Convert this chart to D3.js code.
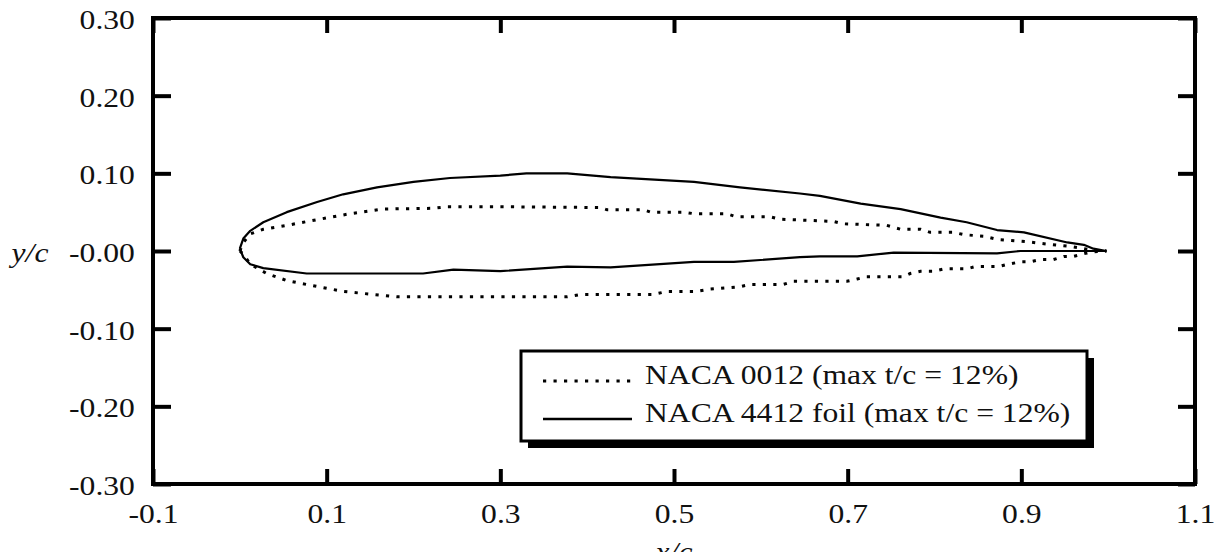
<!DOCTYPE html>
<html>
<head>
<meta charset="utf-8">
<script src="https://cdn.jsdelivr.net/npm/d3@7"></script>
<style>
  body { margin: 0; background: #fff; }
  svg { display: block; }
  text { font-family: "Liberation Serif", "Times New Roman", serif; fill: #111; }
</style>
</head>
<body>
<script>
// airfoil outlines, [x/c, y/c]
var naca0012Upper = [[0.000,0.000],[0.004,0.011],[0.012,0.022],[0.027,0.028],[0.054,0.033],[0.092,0.041],[0.127,0.048],[0.165,0.054],[0.223,0.055],[0.238,0.057],[0.300,0.057],[0.415,0.056],[0.423,0.053],[0.465,0.053],[0.473,0.050],[0.511,0.050],[0.523,0.048],[0.561,0.048],[0.572,0.044],[0.611,0.044],[0.622,0.041],[0.684,0.038],[0.695,0.035],[0.745,0.033],[0.761,0.028],[0.784,0.028],[0.795,0.024],[0.822,0.024],[0.834,0.021],[0.857,0.019],[0.872,0.015],[0.906,0.012],[0.929,0.009],[0.956,0.006],[0.972,0.003],[0.983,0.001],[0.998,0.000]];
var naca0012Lower = [[0.000,0.000],[0.004,-0.004],[0.012,-0.017],[0.031,-0.029],[0.054,-0.038],[0.081,-0.044],[0.119,-0.052],[0.154,-0.056],[0.181,-0.059],[0.377,-0.059],[0.392,-0.056],[0.476,-0.056],[0.492,-0.052],[0.526,-0.052],[0.542,-0.049],[0.576,-0.046],[0.588,-0.043],[0.626,-0.043],[0.638,-0.039],[0.699,-0.039],[0.711,-0.036],[0.722,-0.033],[0.764,-0.033],[0.772,-0.029],[0.784,-0.026],[0.799,-0.026],[0.811,-0.023],[0.837,-0.023],[0.847,-0.020],[0.874,-0.020],[0.885,-0.017],[0.899,-0.014],[0.910,-0.014],[0.922,-0.011],[0.937,-0.011],[0.949,-0.007],[0.960,-0.007],[0.974,-0.003],[0.983,-0.001],[0.998,0.000]];
var naca4412Upper = [[0.000,0.003],[0.004,0.016],[0.012,0.026],[0.027,0.037],[0.054,0.050],[0.089,0.063],[0.119,0.073],[0.158,0.082],[0.200,0.089],[0.242,0.094],[0.300,0.097],[0.330,0.100],[0.377,0.100],[0.427,0.095],[0.523,0.089],[0.576,0.082],[0.645,0.074],[0.668,0.071],[0.715,0.061],[0.761,0.054],[0.807,0.043],[0.837,0.037],[0.872,0.027],[0.903,0.024],[0.953,0.011],[0.972,0.008],[0.983,0.003],[0.998,0.000]];
var naca4412Lower = [[0.000,0.003],[0.004,-0.008],[0.012,-0.017],[0.027,-0.022],[0.077,-0.029],[0.211,-0.029],[0.246,-0.024],[0.300,-0.026],[0.377,-0.020],[0.427,-0.021],[0.523,-0.014],[0.569,-0.014],[0.645,-0.008],[0.668,-0.007],[0.711,-0.007],[0.753,-0.002],[0.872,-0.003],[0.899,0.000],[0.998,0.000]];

var xTicks = [-0.1, 0.1, 0.3, 0.5, 0.7, 0.9, 1.1];
var xTickLabels = ["-0.1", "0.1", "0.3", "0.5", "0.7", "0.9", "1.1"];
var yTicks = [0.3, 0.2, 0.1, 0, -0.1, -0.2, -0.3];
var yTickLabels = ["0.30", "0.20", "0.10", "-0.00", "-0.10", "-0.20", "-0.30"];
var legendLabels = ["NACA 0012 (max t/c = 12%)", "NACA 4412 foil (max t/c = 12%)"];

var width = 1220;
var height = 552;
var plotLeft = 153, plotRight = 1195, plotTop = 18, plotBottom = 484;
var stretch = "scale(1.13,1)";   // the source text is a bit wide

var svg = d3.select("body").append("svg")
            .attr("width", width)
            .attr("height", height);

var xScale = d3.scaleLinear().domain([-0.1, 1.1]).range([plotLeft, plotRight]);
var yScale = d3.scaleLinear().domain([-0.3, 0.3]).range([plotBottom, plotTop]);

function xFmt(d) { return xTickLabels[xTicks.indexOf(d)]; }
function yFmt(d) { return yTickLabels[yTicks.indexOf(d)]; }

// bottom axis, ticks pointing in
var gx = svg.append("g")
   .attr("transform", "translate(0," + plotBottom + ")")
   .call(d3.axisBottom(xScale).tickValues(xTicks).tickFormat(xFmt).tickSizeInner(-15).tickSizeOuter(0).tickPadding(19));
gx.selectAll("text").attr("transform", stretch);

// top axis, ticks only
svg.append("g")
   .attr("transform", "translate(0," + plotTop + ")")
   .call(d3.axisTop(xScale).tickValues(xTicks).tickFormat("").tickSizeInner(-15).tickSizeOuter(0));

// left axis
var gy = svg.append("g")
   .attr("transform", "translate(" + plotLeft + ",0)")
   .call(d3.axisLeft(yScale).tickValues(yTicks).tickFormat(yFmt).tickSizeInner(-18).tickSizeOuter(0).tickPadding(16));
gy.selectAll("text").attr("dy", "0.38em").attr("transform", stretch);

// right axis, ticks only
svg.append("g")
   .attr("transform", "translate(" + plotRight + ",0)")
   .call(d3.axisRight(yScale).tickValues(yTicks).tickFormat("").tickSizeInner(-17).tickSizeOuter(0));

svg.selectAll(".domain").remove();
svg.selectAll(".tick line").attr("stroke", "#000").attr("stroke-width", 4);
svg.selectAll(".tick text").attr("font-size", 28).attr("font-family", "Liberation Serif, serif").attr("fill", "#111");

// frame
svg.append("rect")
   .attr("x", plotLeft).attr("y", plotTop)
   .attr("width", plotRight - plotLeft).attr("height", plotBottom - plotTop)
   .attr("fill", "none").attr("stroke", "#000").attr("stroke-width", 4);

// axis labels
svg.append("text")
   .attr("transform", "translate(" + xScale(0.5) + ",561) " + stretch)
   .attr("text-anchor", "middle")
   .attr("font-size", 28).attr("font-style", "italic")
   .text("x/c");

svg.append("text")
   .attr("transform", "translate(30," + (yScale(0) + 11) + ") " + stretch)
   .attr("text-anchor", "middle")
   .attr("font-size", 28).attr("font-style", "italic")
   .text("y/c");

// the foils
var line = d3.line()
             .x(function(d) { return xScale(d[0]); })
             .y(function(d) { return yScale(d[1]); });

var dotted = "3.2,7.3";

[naca0012Upper, naca0012Lower].forEach(function(pts) {
  svg.append("path")
     .attr("d", line(pts))
     .attr("fill", "none").attr("stroke", "#000")
     .attr("stroke-width", 3).attr("stroke-dasharray", dotted);
});

[naca4412Upper, naca4412Lower].forEach(function(pts) {
  svg.append("path")
     .attr("d", line(pts))
     .attr("fill", "none").attr("stroke", "#000")
     .attr("stroke-width", 2.2).attr("stroke-linejoin", "round");
});

// legend box with drop shadow
var lx = 521, ly = 351, lw = 566, lh = 90;
svg.append("rect")
   .attr("x", lx + 7).attr("y", ly + 7).attr("width", lw).attr("height", lh)
   .attr("fill", "#000");
svg.append("rect")
   .attr("x", lx).attr("y", ly).attr("width", lw).attr("height", lh)
   .attr("fill", "#fff").attr("stroke", "#000").attr("stroke-width", 3);

var legendRows = [
  {label: legendLabels[0], dash: dotted, sw: 3, y: 381},
  {label: legendLabels[1], dash: null, sw: 2.5, y: 419}
];

legendRows.forEach(function(r) {
  svg.append("line")
     .attr("x1", 543).attr("x2", 632)
     .attr("y1", r.y).attr("y2", r.y)
     .attr("stroke", "#000").attr("stroke-width", r.sw)
     .attr("stroke-dasharray", r.dash);
  svg.append("text")
     .attr("transform", "translate(645," + (r.y + 3) + ") " + stretch)
     .attr("font-size", 28)
     .text(r.label);
});
</script>
</body>
</html>
